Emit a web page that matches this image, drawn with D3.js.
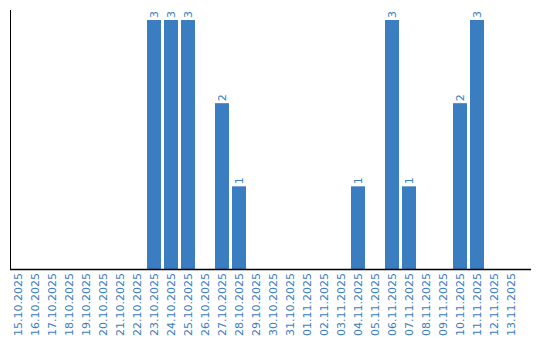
<!DOCTYPE html>
<meta charset='utf-8'>
<html>
  <head>
    <script src="https://d3js.org/d3.v7.min.js"></script>
    <style>
      body { margin: 0; background: #fff; }
      text { font-family: "DejaVu Sans", Verdana, sans-serif; }
    </style>
  </head>
  <body>
    <div id="chart"></div>
    <script>
        // days and counts
        var days = ["15.10.2025","16.10.2025","17.10.2025","18.10.2025","19.10.2025","20.10.2025",
                    "21.10.2025","22.10.2025","23.10.2025","24.10.2025","25.10.2025","26.10.2025",
                    "27.10.2025","28.10.2025","29.10.2025","30.10.2025","31.10.2025","01.11.2025",
                    "02.11.2025","03.11.2025","04.11.2025","05.11.2025","06.11.2025","07.11.2025",
                    "08.11.2025","09.11.2025","10.11.2025","11.11.2025","12.11.2025","13.11.2025"]
        var counts = [0,0,0,0,0,0,0,0,3,3,3,0,2,1,0,0,0,0,0,0,1,0,3,1,0,0,2,3,0,0]

        var data = days.map(function (d, i) { return { day: d, count: counts[i] } })

        var w = 540, h = 340
        var blue = '#3a7dc1'

        var svg = d3.select('#chart').append('svg')
            .attr('width', w)
            .attr('height', h)

        // Scales
        var xScale = d3.scaleBand()
            .domain(days)
            .range([11, 518])
            .paddingInner(3 / 17)
            .paddingOuter(0)
        var yScale = d3.scaleLinear()
            .domain([0, 3])
            .range([269.5, 20])

        // bars
        svg.selectAll('rect.bar')
            .data(data.filter(function (d) { return d.count > 0 }))
            .enter()
            .append('rect')
            .attr('class', 'bar')
            .attr('x', function (d) { return xScale(d.day) })
            .attr('y', function (d) { return yScale(d.count) })
            .attr('width', xScale.bandwidth())
            .attr('height', function (d) { return yScale(0) - yScale(d.count) })
            .attr('fill', blue)

        // value labels
        svg.selectAll('text.val')
            .data(data.filter(function (d) { return d.count > 0 }))
            .enter()
            .append('text')
            .attr('class', 'val')
            .attr('transform', function (d) {
                return 'translate(' + (xScale(d.day) + xScale.bandwidth() / 2) + ',' + (yScale(d.count) - 2) + ') rotate(-90)'
            })
            .attr('dy', '0.35em')
            .attr('text-anchor', 'start')
            .style('font-size', '11px')
            .style('fill', blue)
            .text(function (d) { return d.count })

        // x axis
        var xAxis = d3.axisBottom(xScale).tickSize(0).tickPadding(0)
        var gx = svg.append('g')
            .attr('transform', 'translate(0,270)')
            .call(xAxis)
        gx.select('.domain').remove()
        gx.selectAll('text')
            .attr('transform', 'translate(0,3) rotate(-90)')
            .attr('x', 0)
            .attr('y', 0)
            .attr('dy', '0.35em')
            .attr('text-anchor', 'end')
            .style('font-family', '"DejaVu Sans", Verdana, sans-serif')
            .style('font-size', '11px')
            .style('fill', blue)

        // axis lines
        svg.append('line')
            .attr('x1', 10).attr('x2', 531)
            .attr('y1', 269.5).attr('y2', 269.5)
            .attr('stroke', '#000')
            .attr('stroke-width', 1.5)
        svg.append('line')
            .attr('x1', 10.5).attr('x2', 10.5)
            .attr('y1', 10).attr('y2', 270)
            .attr('stroke', '#000')
            .attr('stroke-width', 1)
    </script>
  </body>
</html>
